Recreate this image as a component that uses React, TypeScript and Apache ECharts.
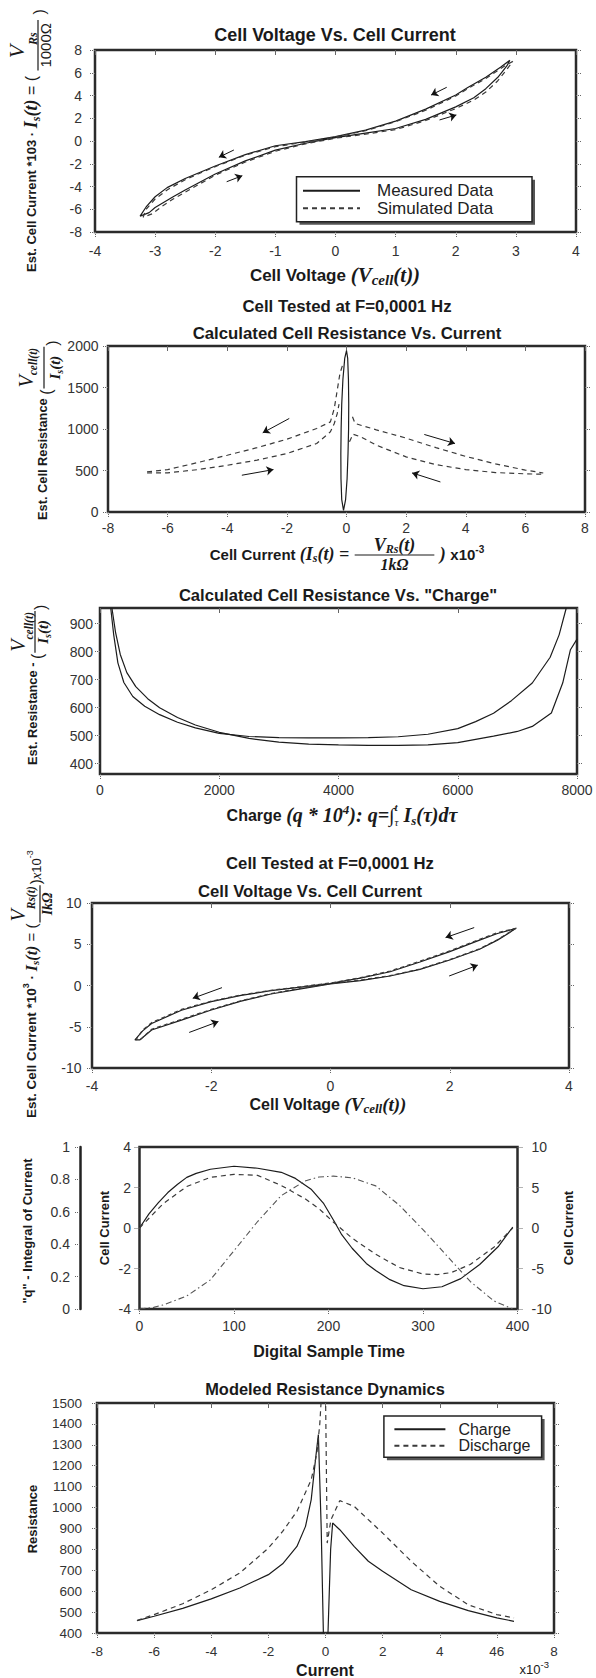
import React, { useEffect, useRef } from 'react';
import * as echarts from 'echarts';

// ---------------- data ----------------
// Panel 1: Cell Voltage vs Cell Current (x: volts, y: current*1e3)
const P1_MEASURED: number[][] = [
  [2.9, 7.1], [2.75, 6.5], [2.5, 5.6], [2.2, 4.7], [2.0, 4.05], [1.5, 2.8], [1.0, 1.75], [0.5, 0.95], [0, 0.38],
  [-0.5, -0.05], [-1, -0.42], [-1.5, -1.2], [-2, -2.2], [-2.5, -3.3], [-2.8, -4.1], [-3, -4.9], [-3.15, -5.8], [-3.25, -6.6],
  [-3.1, -6.3], [-3, -5.85], [-2.7, -4.9], [-2.5, -4.3], [-2, -2.9], [-1.5, -1.75], [-1, -0.8], [-0.5, -0.2], [0, 0.3],
  [0.5, 0.7], [1, 1.1], [1.5, 1.9], [2, 3.0], [2.3, 3.8], [2.5, 4.6], [2.7, 5.6], [2.85, 6.6], [2.9, 7.1],
];
const P1_SIMULATED: number[][] = [
  [2.95, 7.0], [2.8, 6.55], [2.5, 5.5], [2.2, 4.6], [2.0, 3.95], [1.5, 2.7], [1.0, 1.7], [0.5, 0.9], [0, 0.35],
  [-0.5, -0.1], [-1, -0.5], [-1.5, -1.25], [-2, -2.25], [-2.5, -3.4], [-2.8, -4.3], [-3, -5.1], [-3.15, -6.0], [-3.2, -6.7],
  [-3.05, -6.4], [-2.9, -5.8], [-2.7, -5.1], [-2.5, -4.5], [-2, -3.0], [-1.5, -1.85], [-1, -0.9], [-0.5, -0.25], [0, 0.25],
  [0.5, 0.6], [1, 1.0], [1.5, 1.8], [2, 2.85], [2.3, 3.6], [2.5, 4.3], [2.7, 5.3], [2.85, 6.3], [2.95, 7.0],
];
const P1_ARROWS: number[][][] = [
  [[1.85, 4.72], [1.59, 4.04]], [[1.73, 1.85], [2.01, 2.29]],
  [[-1.69, -0.79], [-1.94, -1.43]], [[-1.81, -3.58], [-1.55, -3.05]],
];

// Panel 2: Calculated Cell Resistance vs Current
const P2_SOLID: number[][] = [
  [-0.1, 20], [-0.16, 150], [-0.185, 400], [-0.19, 700], [-0.18, 1000], [-0.16, 1300], [-0.12, 1600], [-0.06, 1850],
  [0.0, 1944], [0.04, 1850], [0.065, 1600], [0.075, 1300], [0.07, 1000], [0.05, 700], [0.02, 400], [-0.03, 150], [-0.1, 20],
];
const P2_DASH_LEFT_UP: number[][] = [
  [-6.69, 483], [-6, 511], [-5, 595], [-4, 684], [-3, 775], [-2, 877], [-1, 1006], [-0.54, 1086], [-0.41, 1247],
  [-0.31, 1469], [-0.22, 1670], [-0.13, 1771],
];
const P2_DASH_LEFT_LOW: number[][] = [
  [-6.69, 470], [-6, 471], [-5, 510], [-4, 563], [-3, 625], [-2, 704], [-1, 825], [-0.54, 966], [-0.41, 1066],
  [-0.31, 1187], [-0.25, 1300],
];
const P2_DASH_RIGHT_UP: number[][] = [
  [0.2, 1147], [0.29, 1066], [1, 990], [2, 890], [3, 775], [4, 670], [5, 580], [6, 505], [6.6, 470],
];
const P2_DASH_RIGHT_LOW: number[][] = [
  [0.1, 845], [0.22, 938], [0.48, 905], [1, 805], [2, 664], [3, 571], [4, 511], [5, 475], [6, 460], [6.6, 455],
];
const P2_ARROWS: number[][][] = [
  [[-1.92, 1127], [-2.81, 954]], [[-3.51, 443], [-2.45, 511]],
  [[2.61, 934], [3.64, 825]], [[3.15, 362], [2.2, 471]],
];

// Panel 3: Calculated Cell Resistance vs "Charge"
const P3_Y_MIN = 363;
const P3_Y_MAX = 956;
const P3_Y_TICKS = [400, 500, 600, 700, 800, 900];
const P3_CURVE_A: number[][] = [
  [180, 956], [230, 860], [300, 760], [400, 690], [550, 640], [750, 605], [1000, 575], [1300, 548], [1600, 528],
  [2000, 508], [2500, 497], [3000, 493], [3500, 492], [4000, 492], [4500, 493], [5000, 496], [5500, 505], [6000, 525],
  [6300, 550], [6600, 580], [6900, 625], [7250, 688], [7550, 780], [7700, 860], [7820, 956],
];
const P3_CURVE_B: number[][] = [
  [200, 956], [260, 870], [340, 790], [450, 725], [600, 675], [800, 632], [1000, 600], [1300, 565], [1600, 538],
  [2000, 512], [2500, 490], [3000, 477], [3500, 470], [4000, 467], [4500, 465], [5000, 465], [5500, 467], [6000, 475],
  [6600, 498], [7000, 515], [7250, 533], [7570, 581], [7760, 688], [7890, 807], [8000, 845],
];

// Panel 4: Cell Voltage vs Cell Current (second test)
const P4_SOLID: number[][] = [
  [3.1, 6.9], [2.8, 6.3], [2.5, 5.5], [2.0, 4.1], [1.5, 2.85], [1.0, 1.67], [0.5, 0.9], [0, 0.27], [-0.5, -0.2],
  [-1, -0.63], [-1.5, -1.2], [-2, -1.96], [-2.5, -3.0], [-3, -4.6], [-3.15, -5.5], [-3.28, -6.6],
  [-3.2, -6.6], [-3, -5.4], [-2.5, -4.2], [-2, -2.97], [-1.5, -1.9], [-1, -1.03], [-0.5, -0.4], [0, 0.2], [0.5, 0.6],
  [1, 1.15], [1.5, 1.95], [2, 3.09], [2.5, 4.4], [2.8, 5.5], [3.0, 6.4], [3.1, 6.9],
];
const P4_DASHED: number[][] = [
  [3.12, 6.95], [2.8, 6.4], [2.5, 5.6], [2.0, 4.2], [1.5, 2.95], [1.0, 1.75], [0.5, 0.95], [0, 0.3], [-0.5, -0.15],
  [-1, -0.58], [-1.5, -1.15], [-2, -1.9], [-2.5, -2.9], [-3, -4.5], [-3.15, -5.4], [-3.26, -6.55],
  [-3.18, -6.5], [-3, -5.3], [-2.5, -4.1], [-2, -2.9], [-1.5, -1.85], [-1, -0.98], [-0.5, -0.35], [0, 0.23], [0.5, 0.65],
  [1, 1.2], [1.5, 2.0], [2, 3.15], [2.5, 4.45], [2.8, 5.55], [3.0, 6.45], [3.12, 6.95],
];
const P4_ARROWS: number[][][] = [
  [[2.41, 7.02], [1.93, 5.81]], [[1.99, 1.15], [2.47, 2.47]],
  [[-1.82, -0.26], [-2.31, -1.55]], [[-2.37, -5.69], [-1.88, -4.37]],
];

// Panel 5: Digital sample time series
const P5_CURRENT_SOLID: number[][] = [
  [0, 0], [10, 0.7], [20, 1.25], [25, 1.5], [30, 1.75], [40, 2.15], [50, 2.5], [60, 2.7], [75, 2.9], [100, 3.05],
  [125, 2.95], [150, 2.75], [165, 2.45], [182, 1.9], [195, 1.2], [206, 0.33], [214, -0.33], [225, -1.0], [240, -1.75],
  [250, -2.1], [265, -2.55], [280, -2.85], [300, -3.0], [320, -2.9], [340, -2.5], [360, -1.8], [380, -0.9], [395, 0.05],
];
const P5_CURRENT_DASHED: number[][] = [
  [0, 0], [25, 1.2], [50, 2.05], [75, 2.5], [100, 2.65], [125, 2.6], [150, 2.1], [175, 1.45], [190, 0.95], [205, 0.3],
  [225, -0.5], [250, -1.3], [275, -1.95], [300, -2.27], [315, -2.3], [330, -2.2], [350, -1.8], [375, -0.95], [395, 0.0],
];
const P5_Q: number[][] = [
  [0, 0], [15, 0.01], [25, 0.025], [50, 0.08], [75, 0.18], [100, 0.36], [125, 0.54], [150, 0.7], [175, 0.79],
  [190, 0.815], [205, 0.82], [225, 0.81], [250, 0.76], [275, 0.64], [300, 0.49], [325, 0.33], [350, 0.17], [375, 0.05], [395, 0],
];

// Panel 6: Modeled Resistance Dynamics
const P6_X_TICK_LABELS = ['-8', '-6', '-4', '-2', '0', '2', '4', '46', '8'];
const P6_CHARGE: number[][] = [
  [-6.6, 459], [-6, 480], [-5, 518], [-4, 563], [-3, 615], [-2, 679], [-1.5, 731], [-1, 814], [-0.7, 910], [-0.5, 1038],
  [-0.35, 1230], [-0.25, 1349], [-0.15, 900], [-0.07, 370], [0.08, 370], [0.18, 800], [0.25, 926], [0.5, 894], [1, 814],
  [1.5, 743], [2, 695], [3, 607], [4, 551], [5, 507], [6, 472], [6.6, 456],
];
const P6_DISCHARGE: number[][] = [
  [-6.6, 460], [-6, 488], [-5, 540], [-4, 607], [-3, 687], [-2, 806], [-1.5, 886], [-1, 982], [-0.5, 1133], [-0.3, 1261],
  [-0.2, 1400], [-0.13, 1560], [0.0, 1560], [0.06, 830], [0.19, 942], [0.5, 1033], [1, 1006], [2, 878], [3, 743],
  [4, 623], [5, 535], [6, 488], [6.6, 472],
];

// ---------------- text helpers ----------------
const SANS = '"Liberation Sans", Arial, Helvetica, sans-serif';
const SERIF = '"Liberation Serif", "Times New Roman", Times, serif';
const fB = (s: number) => `bold ${s}px ${SANS}`;
const fR = (s: number) => `${s}px ${SANS}`;
const fIB = (s: number) => `italic bold ${s}px ${SERIF}`;
const fI = (s: number) => `italic ${s}px ${SERIF}`;
const INK = '#1a1a1a';

type TP = { t: string; f: string; dy?: number; na?: boolean };
type FP = { num: TP[]; den: TP[]; nd: number; dd: number; bd: number; pad?: number };
type Piece = TP | FP;

let mctx: CanvasRenderingContext2D | null = null;
function tw(t: string, f: string): number {
  if (!mctx) mctx = document.createElement('canvas').getContext('2d');
  mctx!.font = f;
  return mctx!.measureText(t).width;
}
function seqW(ps: TP[]) {
  return ps.reduce((s, p) => s + (p.na ? 0 : tw(p.t, p.f)), 0);
}
function pieceW(p: Piece) {
  if ('num' in p) return Math.max(seqW(p.num), seqW(p.den)) + 2 * (p.pad ?? 2);
  return p.na ? 0 : tw(p.t, p.f);
}
function txt(x: number, y: number, t: string, f: string) {
  return {
    type: 'text', x, y, silent: true,
    style: { text: t, font: f, fill: INK, textAlign: 'left', textVerticalAlign: 'middle', align: 'left', verticalAlign: 'middle' },
  };
}
function layoutSeq(ps: TP[], x: number, y: number, out: any[]) {
  let cx = x;
  for (const p of ps) {
    out.push(txt(cx, y + (p.dy || 0), p.t, p.f));
    if (!p.na) cx += tw(p.t, p.f);
  }
}
function label(pieces: Piece[], x: number, y: number, align: 'left' | 'center' | 'right') {
  const total = pieces.reduce((s, p) => s + pieceW(p), 0);
  let cx = align === 'left' ? x : align === 'center' ? x - total / 2 : x - total;
  const out: any[] = [];
  for (const p of pieces) {
    const w = pieceW(p);
    if ('num' in p) {
      const nw = seqW(p.num);
      const dw = seqW(p.den);
      layoutSeq(p.num, cx + (w - nw) / 2, y + p.nd, out);
      layoutSeq(p.den, cx + (w - dw) / 2, y + p.dd, out);
      out.push({
        type: 'line', silent: true,
        shape: { x1: cx + 1, y1: y + p.bd, x2: cx + w - 1, y2: y + p.bd },
        style: { stroke: INK, lineWidth: 1.2 },
      });
    } else {
      out.push(txt(cx, y + (p.dy || 0), p.t, p.f));
    }
    cx += w;
  }
  return out;
}
function vlabel(pieces: Piece[], ax: number, ay: number, align: 'left' | 'center' | 'right') {
  return { type: 'group', x: ax, y: ay, rotation: Math.PI / 2, children: label(pieces, 0, 0, align) };
}

// ---------------- axis helpers ----------------
const TICK_OUT = { show: true, inside: false, length: 5, lineStyle: { color: '#666', width: 1, type: 'dotted' } };
const TICK_IN = { show: true, inside: true, length: 5, lineStyle: { color: '#666', width: 1 } };
const plain = (v: number) => String(parseFloat(Number(v).toFixed(6)));
const axLabel = (margin: number, size = 14) => ({ show: true, fontSize: size, color: '#333', fontFamily: SANS, margin, formatter: plain });

function mainAxis(grid: number, pos: string, min: number, max: number, interval: number | undefined, margin: number, extra: any = {}) {
  return {
    type: 'value', gridIndex: grid, position: pos, min, max, interval,
    axisLine: { show: false, onZero: false }, axisTick: TICK_OUT, axisLabel: axLabel(margin),
    splitLine: { show: false }, ...extra,
  };
}
function mirrorAxis(grid: number, pos: string, min: number, max: number, interval: number | undefined, inside: boolean, extra: any = {}) {
  return {
    type: 'value', gridIndex: grid, position: pos, min, max, interval,
    axisLine: { show: false, onZero: false }, axisTick: inside ? TICK_IN : TICK_OUT,
    axisLabel: { show: false }, splitLine: { show: false }, ...extra,
  };
}

const SOLID = { color: '#1c1c1c', width: 1.2, type: 'solid' };
const DASHED = { color: '#3a3a3a', width: 1.2, type: [5, 4] };
const DASHDOT = { color: '#555', width: 1.1, type: [6, 3, 1.5, 3] };

function ser(name: string | undefined, xi: number, yi: number, data: number[][], ls: any, extra: any = {}) {
  return {
    name, type: 'line', xAxisIndex: xi, yAxisIndex: yi, data, symbol: 'none', showSymbol: false,
    lineStyle: ls, itemStyle: { color: ls.color }, silent: true, clip: true, z: 3, animation: false, ...extra,
  };
}
function arrows(list: number[][][]) {
  return {
    silent: true, symbol: ['none', 'arrow'], symbolSize: 7, label: { show: false },
    lineStyle: { color: '#111', width: 1, type: 'solid' }, emphasis: { disabled: true }, animation: false,
    data: list.map(([a, b]) => [{ coord: a }, { coord: b }]),
  };
}

function buildOption() {
  const gridBase = { show: true, borderColor: '#2b2b2b', borderWidth: 2.5, backgroundColor: 'transparent', containLabel: false, outerBoundsMode: 'none' };
  const grids = [
    { left: 95, top: 50, width: 481, height: 182 },
    { left: 108, top: 346, width: 477, height: 166 },
    { left: 100, top: 608, width: 477, height: 166 },
    { left: 92, top: 903, width: 477, height: 165 },
    { left: 139.5, top: 1147, width: 378, height: 162 },
    { left: 97, top: 1403, width: 457, height: 230 },
  ].map((g) => ({ ...gridBase, ...g }));

  const xAxis = [
    mainAxis(0, 'bottom', -4, 4, 1, 12), // 0
    mirrorAxis(0, 'top', -4, 4, 1, true), // 1
    mainAxis(1, 'bottom', -8, 8, 2, 9), // 2
    mirrorAxis(1, 'top', -8, 8, 2, true), // 3
    mainAxis(2, 'bottom', 0, 8000, 2000, 9), // 4
    mirrorAxis(2, 'top', 0, 8000, 2000, true), // 5
    mainAxis(3, 'bottom', -4, 4, 2, 11), // 6
    mirrorAxis(3, 'top', -4, 4, 2, true), // 7
    mainAxis(4, 'bottom', 0, 400, 100, 10), // 8
    mainAxis(5, 'bottom', -8, 8, 2, 11, {
      axisLabel: { ...axLabel(11, 13.5), formatter: (v: number) => P6_X_TICK_LABELS[Math.round((v + 8) / 2)] ?? plain(v) },
    }), // 9
    mirrorAxis(5, 'top', -8, 8, 2, true), // 10
  ];
  const yAxis = [
    mainAxis(0, 'left', -8, 8, 2, 13), // 0
    mirrorAxis(0, 'right', -8, 8, 2, false), // 1
    mainAxis(1, 'left', 0, 2000, 500, 9.5), // 2
    mirrorAxis(1, 'right', 0, 2000, 500, false), // 3
    mainAxis(2, 'left', P3_Y_MIN, P3_Y_MAX, undefined, 7, {
      axisLabel: { ...axLabel(7), customValues: P3_Y_TICKS },
      axisTick: { ...TICK_OUT, customValues: P3_Y_TICKS },
    }), // 4
    mirrorAxis(2, 'right', P3_Y_MIN, P3_Y_MAX, undefined, false, {
      axisTick: { ...TICK_OUT, customValues: P3_Y_TICKS },
    }), // 5
    mainAxis(3, 'left', -10, 10, 5, 10.5), // 6
    mirrorAxis(3, 'right', -10, 10, 5, false), // 7
    mainAxis(4, 'left', -4, 4, 2, 8.5), // 8
    mainAxis(4, 'right', -10, 10, 5, 14), // 9
    {
      ...mainAxis(4, 'left', 0, 1, 0.2, 10),
      offset: 59.5,
      axisLine: { show: true, onZero: false, lineStyle: { color: '#222', width: 2.5 } },
    }, // 10
    mainAxis(5, 'left', 400, 1500, 100, 15, { axisLabel: axLabel(15, 13.5) }), // 11
    mirrorAxis(5, 'right', 400, 1500, 100, false), // 12
  ];

  const series = [
    ser('Measured Data', 0, 0, P1_MEASURED, SOLID, { markLine: arrows(P1_ARROWS) }),
    ser('Simulated Data', 0, 0, P1_SIMULATED, DASHED),

    ser(undefined, 2, 2, P2_SOLID, SOLID, { markLine: arrows(P2_ARROWS) }),
    ser(undefined, 2, 2, P2_DASH_LEFT_UP, DASHED),
    ser(undefined, 2, 2, P2_DASH_LEFT_LOW, DASHED),
    ser(undefined, 2, 2, P2_DASH_RIGHT_UP, DASHED),
    ser(undefined, 2, 2, P2_DASH_RIGHT_LOW, DASHED),

    ser(undefined, 4, 4, P3_CURVE_A, SOLID),
    ser(undefined, 4, 4, P3_CURVE_B, SOLID),

    ser(undefined, 6, 6, P4_SOLID, SOLID, { markLine: arrows(P4_ARROWS) }),
    ser(undefined, 6, 6, P4_DASHED, { ...DASHED, type: [4, 3] }),

    ser(undefined, 8, 8, P5_CURRENT_SOLID, SOLID),
    ser(undefined, 8, 8, P5_CURRENT_DASHED, DASHED),
    ser(undefined, 8, 10, P5_Q, DASHDOT),

    ser('Charge', 9, 11, P6_CHARGE, SOLID),
    ser('Discharge', 9, 11, P6_DISCHARGE, DASHED),
  ];

  const legendText = (size: number, lh: number, padLeft: number) => ({
    fontSize: size, lineHeight: lh, color: '#222', fontFamily: SANS, padding: [0, 0, 0, padLeft],
  });
  const legendCommon = {
    orient: 'vertical', itemHeight: 14, padding: 0, selectedMode: false,
    backgroundColor: 'transparent', borderWidth: 0, z: 10,
    itemStyle: { opacity: 0, borderWidth: 0 },
  };
  const legend = [
    {
      ...legendCommon, data: ['Measured Data', 'Simulated Data'], left: 302, top: 182.2,
      itemWidth: 57, itemGap: 0.6, textStyle: legendText(17, 17, 12),
    },
    {
      ...legendCommon, data: ['Charge', 'Discharge'], left: 393.4, top: 1421.3,
      itemWidth: 51, itemGap: 0.4, textStyle: legendText(16, 14, 8),
    },
  ];

  const boxes = (x: number, y: number, w: number, h: number) => [
    { type: 'rect', z: 1, silent: true, shape: { x: x + 3, y: y + 3, width: w, height: h }, style: { fill: '#555' } },
    { type: 'rect', z: 1, silent: true, shape: { x, y, width: w, height: h }, style: { fill: '#fff', stroke: '#222', lineWidth: 1.5 } },
  ];

  const graphics: any[] = [
    ...boxes(296.5, 176.7, 235.5, 45),
    ...boxes(383.9, 1416, 157.7, 41.3),

    // titles
    ...label([{ t: 'Cell Voltage Vs. Cell Current', f: fB(18) }], 335, 35, 'center'),
    ...label([{ t: 'Cell Tested at F=0,0001 Hz', f: fB(16.8) }], 347, 306, 'center'),
    ...label([{ t: 'Calculated Cell Resistance Vs. Current', f: fB(16.8) }], 347, 333, 'center'),
    ...label([{ t: 'Calculated Cell Resistance Vs. "Charge"', f: fB(16.6) }], 338, 595, 'center'),
    ...label([{ t: 'Cell Tested at F=0,0001 Hz', f: fB(16.7) }], 330, 863, 'center'),
    ...label([{ t: 'Cell Voltage Vs. Cell Current', f: fB(16.7) }], 310, 891, 'center'),
    ...label([{ t: 'Modeled Resistance Dynamics', f: fB(16.4) }], 325, 1389, 'center'),

    // x-axis names
    ...label([
      { t: 'Cell Voltage ', f: fB(17) }, { t: '(V', f: fIB(21) }, { t: 'cell', f: fIB(15), dy: 5 }, { t: '(t))', f: fIB(21) },
    ], 335, 275, 'center'),
    ...label([
      { t: 'Cell Current ', f: fB(15) }, { t: '(I', f: fIB(18) }, { t: 's', f: fIB(12), dy: 4 }, { t: '(t) = ', f: fIB(18) },
      {
        num: [{ t: 'V', f: fIB(18) }, { t: 'Rs', f: fIB(12), dy: 4 }, { t: '(t)', f: fIB(18) }],
        den: [{ t: '1kΩ', f: fIB(16) }], nd: -9, dd: 10, bd: 1, pad: 20,
      },
      { t: ' ) ', f: fIB(18) }, { t: 'x10', f: fB(15) }, { t: '-3', f: fB(10), dy: -5 },
    ], 347, 554, 'center'),
    ...label([
      { t: 'Charge ', f: fB(16) }, { t: '(q * 10', f: fIB(20) }, { t: '4', f: fIB(13), dy: -6 }, { t: '): q=', f: fIB(20) },
      { t: '∫', f: fI(20) }, { t: 't', f: fIB(11), dy: -8, na: true }, { t: 'τ', f: fI(11), dy: 7 },
      { t: ' I', f: fIB(20) }, { t: 's', f: fIB(13), dy: 5 }, { t: '(τ)dτ', f: fIB(20) },
    ], 342, 815, 'center'),
    ...label([
      { t: 'Cell Voltage ', f: fB(16) }, { t: '(V', f: fIB(19) }, { t: 'cell', f: fIB(13), dy: 4 }, { t: '(t))', f: fIB(19) },
    ], 328, 1104, 'center'),
    ...label([{ t: 'Digital Sample Time', f: fB(16) }], 329, 1351, 'center'),
    ...label([{ t: 'Current', f: fB(16) }], 325, 1670, 'center'),
    ...label([{ t: 'x10', f: fR(13) }, { t: '-3', f: fR(9.5), dy: -5 }], 549, 1669, 'right'),

    // y-axis names
    vlabel([
      { t: 'Est. Cell Current *103', f: fB(13) }, { t: ' · ', f: fB(13) }, { t: 'I', f: fIB(18) },
      { t: 's', f: fIB(12), dy: 5 }, { t: '(t)', f: fIB(18) }, { t: ' = ( ', f: fR(16) },
      {
        num: [{ t: 'V', f: fI(22), dy: -7 }, { t: 'Rs', f: fIB(12), dy: 10 }],
        den: [{ t: '1000Ω', f: fR(15) }], nd: -8, dd: 14, bd: 7, pad: 4,
      },
      { t: ' )', f: fR(16), dy: 8 },
    ], 31, 272, 'left'),
    vlabel([
      { t: 'Est. Cell Resistance ', f: fB(12.8) }, { t: '(', f: fR(16), dy: 4 },
      {
        num: [{ t: 'V', f: fI(20), dy: -4.5 }, { t: 'cell(t)', f: fIB(11.5), dy: 2.5 }],
        den: [{ t: 'I', f: fIB(15) }, { t: 's', f: fIB(10), dy: 4 }, { t: '(t)', f: fIB(15) }], nd: -12, dd: 13, bd: 2, pad: 2,
      },
      { t: ')', f: fR(16), dy: 10 },
    ], 42, 520, 'left'),
    vlabel([
      { t: 'Est. Resistance - ', f: fB(12.8) }, { t: '(', f: fR(16), dy: 5 },
      {
        num: [{ t: 'V', f: fI(20), dy: -5 }, { t: 'cell(t)', f: fIB(11.5), dy: 5.5 }],
        den: [{ t: 'I', f: fIB(15) }, { t: 's', f: fIB(10), dy: 4 }, { t: '(t)', f: fIB(15) }], nd: -9, dd: 11, bd: 3, pad: 2,
      },
      { t: ')', f: fR(16), dy: 8 },
    ], 32, 765, 'left'),
    vlabel([
      { t: 'Est. Cell Current *10', f: fB(13.5) }, { t: '3', f: fB(9), dy: -5 }, { t: ' · ', f: fB(13.5) },
      { t: 'I', f: fIB(16) }, { t: 's', f: fIB(11), dy: 4 }, { t: '(t)', f: fIB(16) }, { t: ' = (', f: fR(15) },
      {
        num: [{ t: 'V', f: fI(20), dy: -7 }, { t: 'Rs(t)', f: fIB(11.5), dy: 6 }],
        den: [{ t: 'IkΩ', f: fIB(14) }], nd: -6, dd: 16, bd: 9, pad: 2,
      },
      { t: ')', f: fR(15), dy: 4 }, { t: 'x', f: fI(15), dy: 5 }, { t: '10', f: fR(13), dy: 5 }, { t: '-3', f: fR(9), dy: -1 },
    ], 31, 1118, 'left'),
    vlabel([{ t: '"q" - Integral of Current', f: fB(13) }], 27.5, 1231, 'center'),
    vlabel([{ t: 'Cell Current', f: fB(13) }], 104.5, 1228, 'center'),
    vlabel([{ t: 'Cell Current', f: fB(13) }], 568, 1228, 'center'),
    vlabel([{ t: 'Resistance', f: fB(13) }], 32, 1519, 'center'),
  ];

  return {
    animation: false,
    backgroundColor: '#ffffff',
    textStyle: { fontFamily: SANS },
    grid: grids,
    xAxis,
    yAxis,
    series,
    legend,
    graphic: { elements: graphics },
  };
}

export default function App() {
  const ref = useRef<HTMLDivElement>(null);
  useEffect(() => {
    document.body.style.margin = '0';
    if (!ref.current) return;
    const chart = echarts.init(ref.current, null, { renderer: 'svg' });
    chart.setOption(buildOption() as any);
    return () => chart.dispose();
  }, []);
  return <div ref={ref} style={{ width: 596, height: 1678, background: '#fff' }} />;
}
